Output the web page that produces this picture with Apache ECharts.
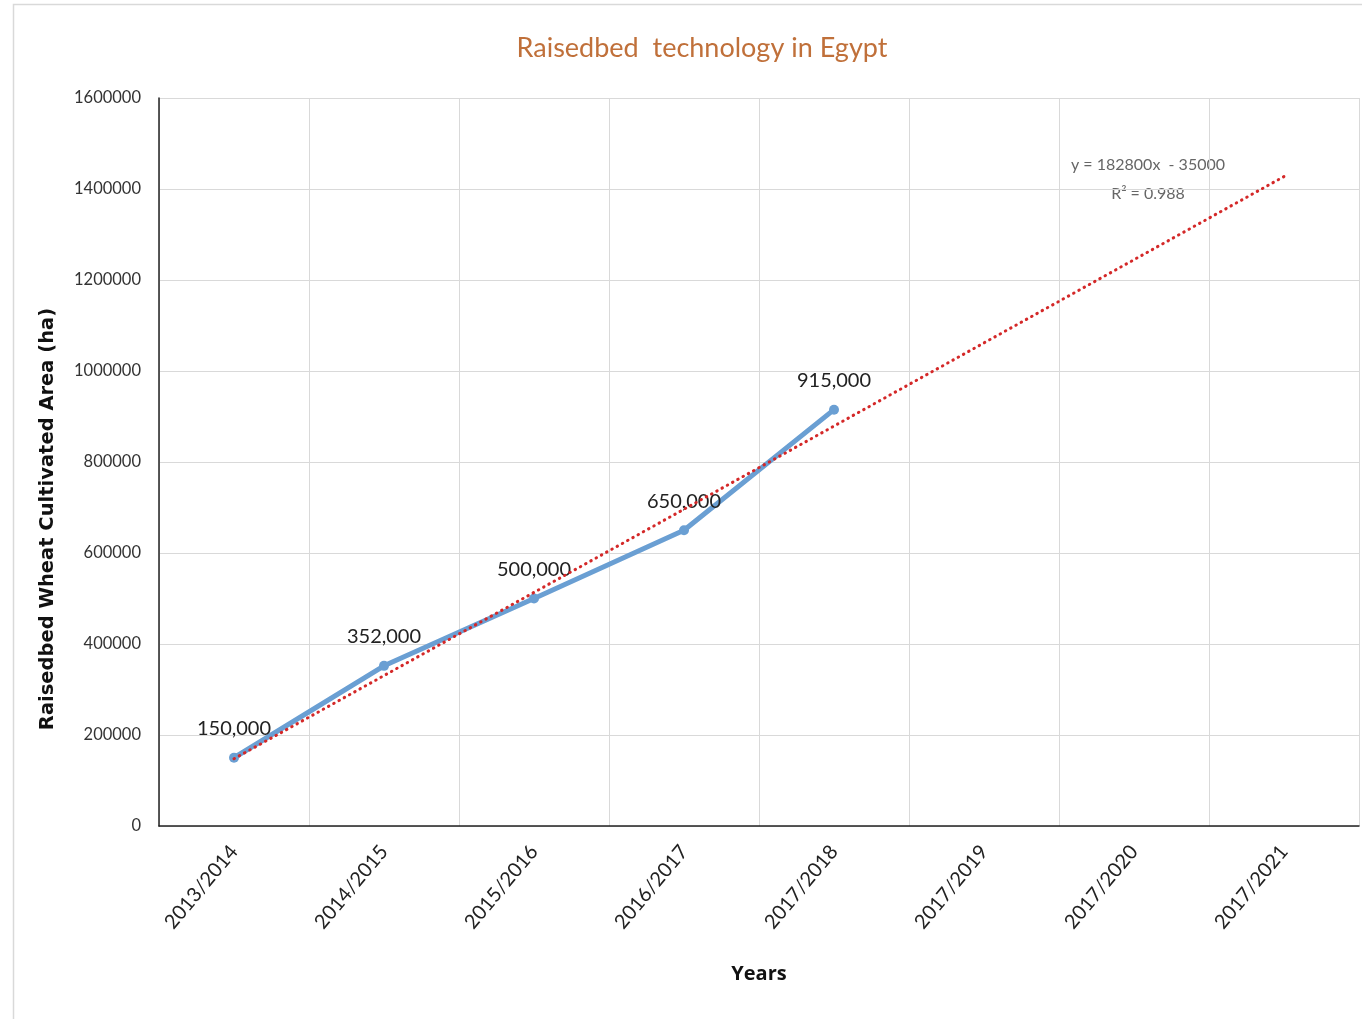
<!DOCTYPE html>
<html>
<head>
<meta charset="utf-8">
<script src="https://cdn.jsdelivr.net/npm/echarts@6/dist/echarts.min.js"></script>
<style>
  html, body { margin: 0; padding: 0; background: #fff; }
  #chart { width: 1362px; height: 1019px; }
</style>
</head>
<body>
<div id="chart"></div>
<script>
// Seasons on the x axis (the last three are projected seasons)
const years = ['2013/2014', '2014/2015', '2015/2016', '2016/2017', '2017/2018', '2017/2019', '2017/2020', '2017/2021'];
// Raised-bed wheat cultivated area (ha) for the observed seasons
const area = [150000, 352000, 500000, 650000, 915000, null, null, null];
// Linear trend y = 182800x - 35000, drawn from its first and last season
const trend = [147800, null, null, null, null, null, null, 1427400];
// Value axis ticks
const yMin = 0, yMax = 1600000, yStep = 200000;
const trendText = ['y = 182800x  - 35000', 'R\u00b2 = 0.988'];
const yTitle = 'Raisedbed Wheat Cultivated Area (ha)';

const chart = echarts.init(document.getElementById('chart'), null, { renderer: 'canvas' });
const font = 'Lato, "Open Sans", sans-serif';

chart.setOption({
  backgroundColor: '#fff',
  animation: false,
  title: {
    text: 'Raisedbed  technology in Egypt',
    left: 697,
    textAlign: 'center',
    top: 30,
    textStyle: { fontFamily: font, fontSize: 27, fontWeight: 'normal', color: '#C0703A' }
  },
  graphic: [
    {
      type: 'rect', silent: true, z: -1,
      shape: { x: 13.5, y: 4.5, width: 1360, height: 1030 },
      style: { fill: 'none', stroke: '#d9d9d9', lineWidth: 1.5 }
    },
    {
      type: 'text', x: 48, y: 519, rotation: Math.PI / 2,
      style: {
        text: yTitle, font: 'bold 19.5px "DejaVu Sans", sans-serif', fill: '#111',
        align: 'center', verticalAlign: 'middle'
      }
    },
    {
      type: 'text', x: 1148, y: 165,
      style: { text: trendText[0], font: '16px ' + font, fill: '#666', align: 'center', verticalAlign: 'middle' }
    },
    {
      type: 'text', x: 1148, y: 194,
      style: { text: trendText[1], font: '16px ' + font, fill: '#666', align: 'center', verticalAlign: 'middle' }
    }
  ],
  grid: { left: 159, right: 3, top: 98, bottom: 193, containLabel: false },
  xAxis: {
    type: 'category',
    data: years,
    boundaryGap: true,
    name: 'Years',
    nameLocation: 'middle',
    nameGap: 138,
    nameTextStyle: { fontFamily: 'Open Sans, sans-serif', fontWeight: 'bold', fontSize: 20, color: '#111' },
    axisLine: { lineStyle: { color: '#222', width: 1.5 } },
    axisTick: { show: false },
    axisLabel: { rotate: 50, fontFamily: font, fontSize: 20, color: '#222', margin: 22, interval: 0 },
    splitLine: { show: true, lineStyle: { color: '#d9d9d9', width: 1 } }
  },
  yAxis: {
    type: 'value',
    min: yMin, max: yMax, interval: yStep,
    axisLine: { show: true, lineStyle: { color: '#222', width: 1.5 } },
    axisTick: { show: false },
    axisLabel: { fontFamily: font, fontSize: 16.5, color: '#333', margin: 18, formatter: v => String(v) },
    splitLine: { show: true, lineStyle: { color: '#d9d9d9', width: 1 } }
  },
  series: [
    {
      name: 'Trend',
      type: 'line',
      data: trend,
      connectNulls: true,
      symbol: 'none',
      z: 3,
      lineStyle: { color: '#D42828', width: 3, type: [0.5, 5.5], cap: 'round' }
    },
    {
      name: 'Area',
      type: 'line',
      data: area,
      symbol: 'circle',
      symbolSize: 10,
      z: 2,
      itemStyle: { color: '#6A9FD3' },
      lineStyle: { color: '#6A9FD3', width: 5 },
      label: {
        show: true,
        position: 'top',
        distance: 14,
        fontFamily: font,
        fontSize: 20,
        color: '#222',
        formatter: p => p.value.toLocaleString('en-US')
      }
    }
  ]
});
</script>
</body>
</html>
